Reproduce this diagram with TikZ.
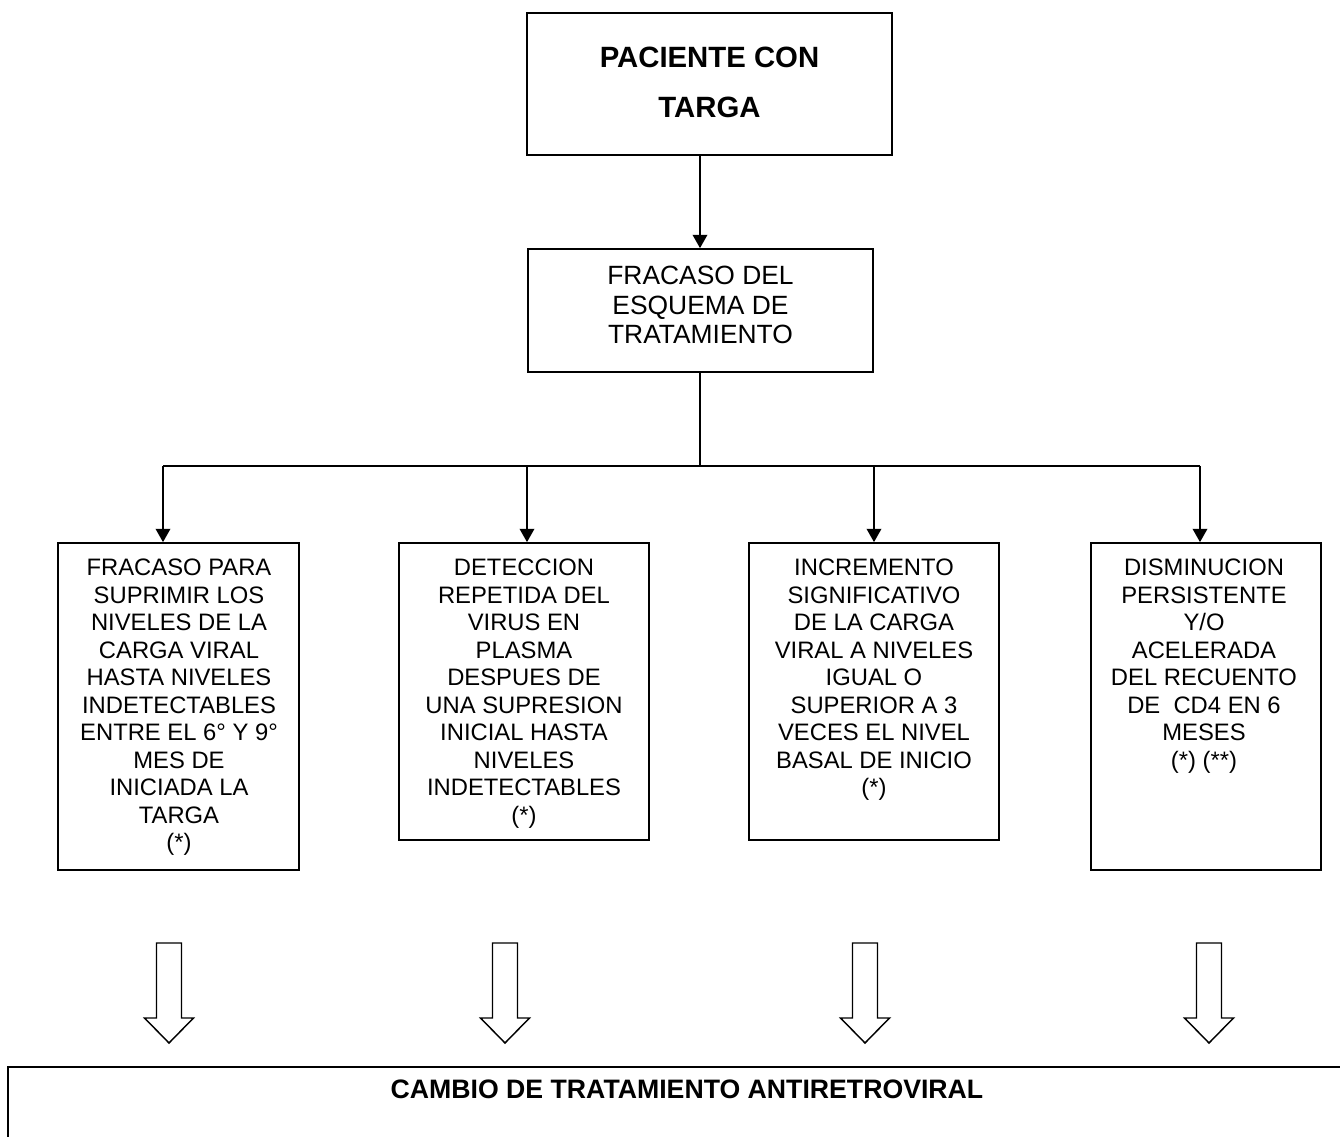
\documentclass[tikz,border=0pt]{standalone}
\usepackage{fontspec}
\setmainfont{Liberation Sans}
\usetikzlibrary{arrows.meta,fit}
\begin{document}
\begin{tikzpicture}[x=0.75pt,y=-0.75pt,
  box/.style={draw,line width=1.3pt,inner sep=0pt},
  link/.style={line width=1.1pt},
  arr/.style={link,-{Triangle[length=10pt,width=11pt]}},
  lowtxt/.style={align=center,inner sep=0pt,anchor=north,
    font=\fontsize{17.85pt}{20.6pt}\selectfont},
  hollowarrow/.pic={\draw[line width=1.1pt,line join=miter,fill=white]
    (-12.5,-50) -- (12.5,-50) -- (12.5,25) -- (24.5,25) -- (0,50)
    -- (-24.5,25) -- (-12.5,25) -- cycle;}
]
\useasboundingbox (0,0) rectangle (1340,1137);
\clip (0,0) rectangle (1340,1137);

% top of the chart
\node[box,fit={(527,13) (892,155)}] (pac) {};
\node[align=center,inner sep=0pt,anchor=north,
  font=\fontsize{22pt}{37.5pt}\selectfont\bfseries] (pactxt) at (709.5,46.5)
  {PACIENTE CON\\TARGA};

\node[box,fit={(528,249) (873,372)}] (fra) {};
\node[align=center,inner sep=0pt,anchor=north,
  font=\fontsize{19.8pt}{22.1pt}\selectfont] (fratxt) at (700.5,266.2)
  {FRACASO DEL\\ESQUEMA DE\\TRATAMIENTO};

\draw[arr] (pac.south -| 700,0) -- (fra.north -| 700,0);

% four criteria
\node[box,fit={(58,543) (299,870)}] (c1) {};
\node[box,fit={(399,543) (649,840)}] (c2) {};
\node[box,fit={(749,543) (999,840)}] (c3) {};
\node[box,fit={(1091,543) (1321,870)}] (c4) {};

\node[lowtxt] (c1txt) at (179,559.1) {FRACASO PARA\\SUPRIMIR LOS\\NIVELES DE LA\\CARGA VIRAL\\HASTA NIVELES\\INDETECTABLES\\ENTRE EL 6° Y 9°\\MES DE\\INICIADA LA\\TARGA\\(*)};
\node[lowtxt] (c2txt) at (524,559.1) {DETECCION\\REPETIDA DEL\\VIRUS EN\\PLASMA\\DESPUES DE\\UNA SUPRESION\\INICIAL HASTA\\NIVELES\\INDETECTABLES\\(*)};
\node[lowtxt] (c3txt) at (874,559.1) {INCREMENTO\\SIGNIFICATIVO\\DE LA CARGA\\VIRAL A NIVELES\\IGUAL O\\SUPERIOR A 3\\VECES EL NIVEL\\BASAL DE INICIO\\(*)};
\node[lowtxt] (c4txt) at (1204,559.1) {DISMINUCION\\PERSISTENTE\\Y/O\\ACELERADA\\DEL RECUENTO\\DE\ \ CD4 EN 6\\MESES\\(*) (**)};

% branching connectors
\coordinate (j) at (700,466);
\coordinate (h1) at (163,466);
\coordinate (h2) at (527,466);
\coordinate (h3) at (874,466);
\coordinate (h4) at (1200,466);
\draw[link] (fra.south -| j) -- (j);
\draw[link] (h1) -- (h4);
\draw[arr] (h1) -- (h1 |- c1.north);
\draw[arr] (h2) -- (h2 |- c2.north);
\draw[arr] (h3) -- (h3 |- c3.north);
\draw[arr] (h4) -- (h4 |- c4.north);

% hollow block arrows
\pic at (169,993) {hollowarrow};
\pic at (505,993) {hollowarrow};
\pic at (865,993) {hollowarrow};
\pic at (1209,993) {hollowarrow};

% outcome
\node[box,fit={(8,1067) (1400,1200)}] (cambio) {};
\node[inner sep=0pt,font=\fontsize{20pt}{24pt}\selectfont\bfseries] (cambiotxt)
  at (687,1089) {CAMBIO DE TRATAMIENTO ANTIRETROVIRAL};
\end{tikzpicture}
\end{document}
